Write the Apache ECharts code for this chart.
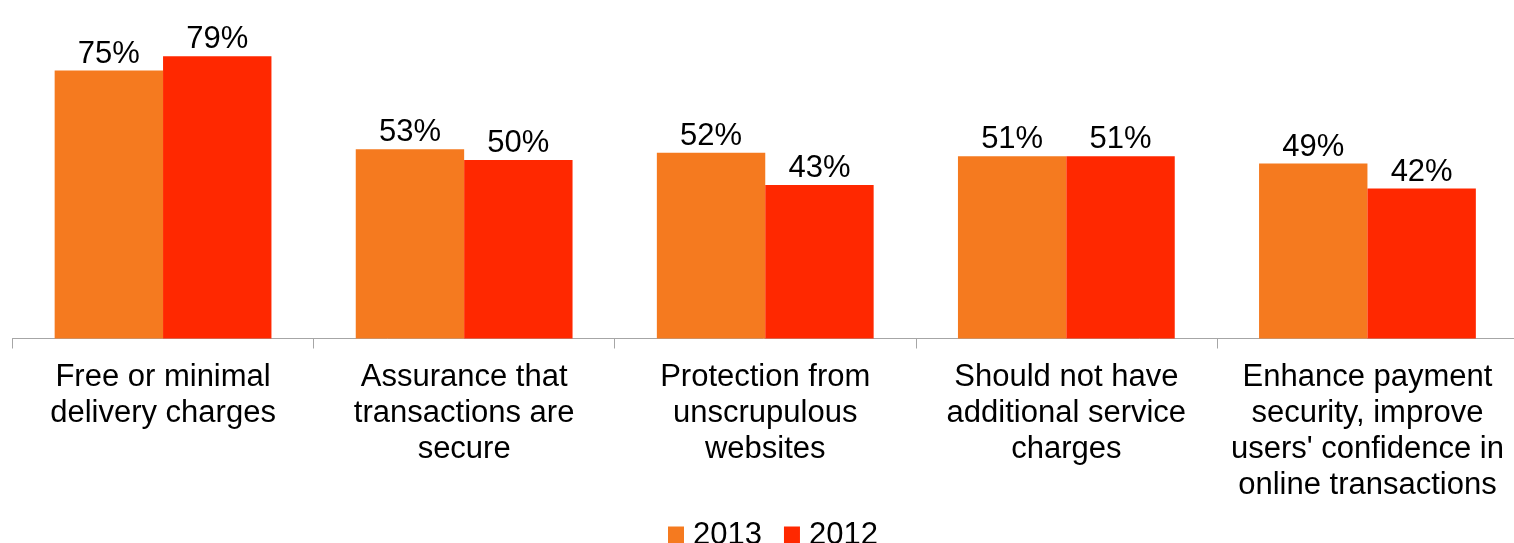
<!DOCTYPE html>
<html>
<head>
<meta charset="utf-8">
<script src="https://cdn.jsdelivr.net/npm/echarts@6/dist/echarts.min.js"></script>
<style>
  html, body { margin: 0; padding: 0; background: #fff; }
  #chart { width: 1514px; height: 543px; }
</style>
</head>
<body>
<div id="chart"></div>
<script>
// Chart data
const categories = [
    'Free or minimal\ndelivery charges',
    'Assurance that\ntransactions are\nsecure',
    'Protection from\nunscrupulous\nwebsites',
    'Should not have\nadditional service\ncharges',
    "Enhance payment\nsecurity, improve\nusers' confidence in\nonline transactions"
];
const seriesNames = ['2013', '2012'];
const values2013 = [75, 53, 52, 51, 49];
const values2012 = [79, 50, 43, 51, 42];

const FONT = '"Liberation Sans", Arial, sans-serif';
const COLORS = ['#F57A1F', '#FF2800'];

const myChart = echarts.init(document.getElementById('chart'), null, { renderer: 'canvas' });

function barSeries(name, data, color) {
    return {
        name: name,
        type: 'bar',
        data: data,
        barGap: '0%',
        barCategoryGap: '28%',
        itemStyle: { color: color },
        label: {
            show: true,
            position: 'top',
            distance: 1,
            formatter: '{c}%',
            color: '#000',
            fontSize: 31,
            fontFamily: FONT
        }
    };
}

const option = {
    animation: false,
    backgroundColor: '#fff',
    // the last category runs a little past the right edge of the picture
    grid: { left: 12.5, width: 1505.5, top: 17, bottom: 204.5, outerBoundsMode: 'none' },
    legend: {
        data: seriesNames,
        left: 663,
        top: 515,
        icon: 'rect',
        itemWidth: 16,
        itemHeight: 18,
        itemGap: 22,
        textStyle: { fontSize: 31, fontFamily: FONT, color: '#000', padding: [0, 0, 0, 4] }
    },
    xAxis: {
        type: 'category',
        data: categories,
        axisLine: { lineStyle: { color: '#A6A6A6', width: 1 } },
        axisTick: { show: true, length: 10, lineStyle: { color: '#A6A6A6' } },
        axisLabel: {
            interval: 0,
            margin: 21,
            fontSize: 31,
            lineHeight: 36,
            color: '#000',
            fontFamily: FONT
        }
    },
    yAxis: {
        type: 'value',
        min: 0,
        max: 90,
        show: false,
        splitLine: { show: false }
    },
    series: [
        barSeries(seriesNames[0], values2013, COLORS[0]),
        barSeries(seriesNames[1], values2012, COLORS[1])
    ]
};

myChart.setOption(option);
</script>
</body>
</html>
